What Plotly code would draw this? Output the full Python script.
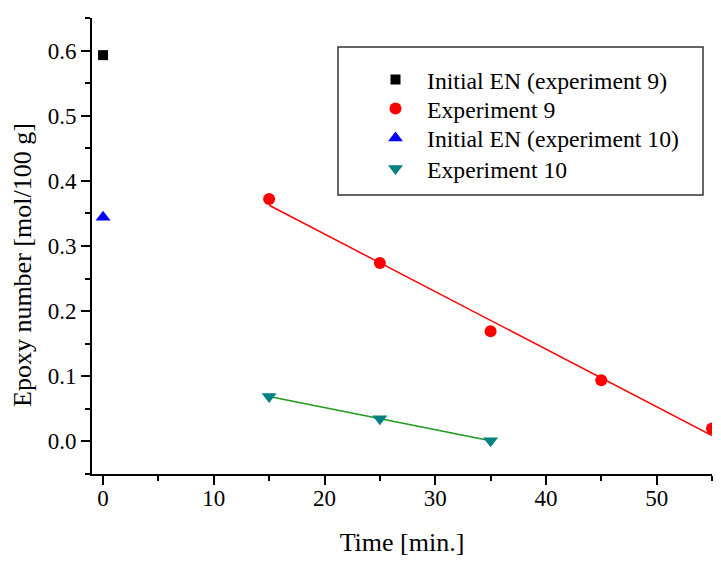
import numpy as np
import plotly.graph_objects as go

# ---- data ----
init9_x = [0]
init9_y = [0.593]
exp9_x = [15, 25, 35, 45, 55]
exp9_y = [0.372, 0.274, 0.169, 0.094, 0.020]
init10_x = [0]
init10_y = [0.344]
exp10_x = [15, 25, 35]
exp10_y = [0.069, 0.035, 0.001]

names = ["Initial EN (experiment 9)", "Experiment 9",
         "Initial EN (experiment 10)", "Experiment 10"]
x_title = "Time [min.]"
y_title = "Epoxy number [mol/100 g]"

FONT = "Liberation Serif"

# linear fits
p9 = np.polyfit(exp9_x, exp9_y, 1)
p10 = np.polyfit(exp10_x, exp10_y, 1)
fx9 = [min(exp9_x), max(exp9_x)]
fy9 = list(np.polyval(p9, fx9))
fx10 = [min(exp10_x), max(exp10_x)]
fy10 = list(np.polyval(p10, fx10))

fig = go.Figure()
fig.add_trace(go.Scatter(x=fx9, y=fy9, mode="lines", line=dict(color="#FF0000", width=1.5),
                         showlegend=False, hoverinfo="skip"))
fig.add_trace(go.Scatter(x=fx10, y=fy10, mode="lines", line=dict(color="#209a20", width=1.5),
                         showlegend=False, hoverinfo="skip"))
fig.add_trace(go.Scatter(x=init9_x, y=init9_y, mode="markers", name=names[0], legend="legend",
                         marker=dict(symbol="square", size=10, color="#000000")))
fig.add_trace(go.Scatter(x=exp9_x, y=exp9_y, mode="markers", name=names[1], legend="legend2",
                         marker=dict(symbol="circle", size=12, color="#FF0000")))
fig.add_trace(go.Scatter(x=init10_x, y=init10_y, mode="markers", name=names[2], legend="legend3",
                         marker=dict(symbol="triangle-up", size=13, color="#0000FF")))
fig.add_trace(go.Scatter(x=exp10_x, y=exp10_y, mode="markers", name=names[3], legend="legend4",
                         marker=dict(symbol="triangle-down", size=13, color="#008080")))

axis_common = dict(
    showgrid=False, zeroline=False, showline=True, linecolor="black", linewidth=2,
    ticks="outside", ticklen=9, tickwidth=2, tickcolor="black", automargin=False,
    tickfont=dict(family=FONT, size=23, color="black"),
)

fig.update_xaxes(range=[-1, 55], tick0=0, dtick=10, ticklabelstandoff=-7,
                 minor=dict(dtick=5, ticks="outside", ticklen=5, tickwidth=2, tickcolor="black"),
                 title=dict(text=x_title, font=dict(family=FONT, size=26, color="black"), standoff=23),
                 **axis_common)
fig.update_yaxes(range=[-0.05, 0.65], tick0=0, dtick=0.1, tickformat=".1f",
                 minor=dict(dtick=0.05, ticks="outside", ticklen=5, tickwidth=2, tickcolor="black"),
                 **axis_common)

# the page body has an 8px margin; figure is sized to fill the rest of the window
OFF = 8
W, H = 721 - OFF, 563 - OFF
# plot area in page pixels
PL, PR, PT, PB = 92, 712, 18, 474


def px_x(v):
    return (v - PL) / (PR - PL)


def px_y(v):
    return (PB - v) / (PB - PT)


# y-axis title (sits a little below the plot-area centre in the original)
fig.add_annotation(text=y_title, xref="paper", yref="paper", x=px_x(22), y=px_y(265),
                   xanchor="center", yanchor="middle", textangle=-90, showarrow=False,
                   font=dict(family=FONT, size=26, color="black"))

# legend frame
fig.add_shape(type="rect", xref="paper", yref="paper",
              x0=px_x(338), x1=px_x(703), y0=px_y(195), y1=px_y(47),
              line=dict(color="#333333", width=1.5), fillcolor="rgba(0,0,0,0)")

row_centers = [79.7, 108.7, 138.0, 168.7]
leg_style = dict(xanchor="left", yanchor="middle", bgcolor="rgba(0,0,0,0)", borderwidth=0,
                 itemwidth=53, font=dict(family=FONT, size=23.7, color="black"))
legends = {}
for i, rc in enumerate(row_centers):
    key = "legend" if i == 0 else f"legend{i + 1}"
    legends[key] = dict(x=px_x(364), y=px_y(rc), **leg_style)

fig.update_layout(
    width=W, height=H,
    margin=dict(l=PL - OFF, r=721 - PR, t=PT - OFF, b=563 - PB, autoexpand=False),
    paper_bgcolor="white", plot_bgcolor="white",
    font=dict(family=FONT, color="black"),
    **legends,
)

fig.write_html("out.html")
